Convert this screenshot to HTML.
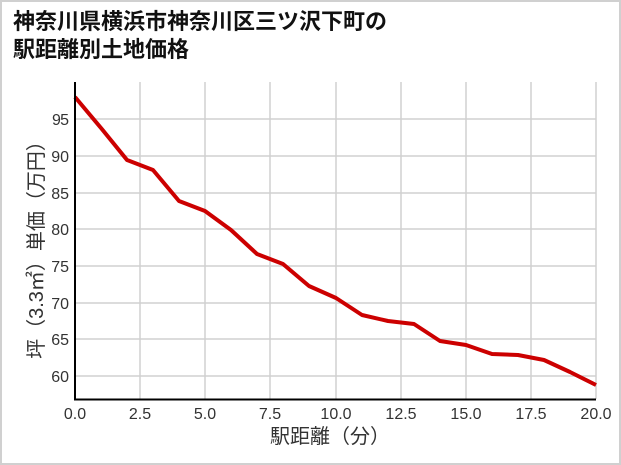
<!DOCTYPE html>
<html><head><meta charset="utf-8"><style>
body{margin:0;width:621px;height:465px;background:#fff;overflow:hidden}
.f{position:absolute;left:0;top:0;width:617px;height:461px;border:2px solid #d0d0d0}
.t{position:absolute;left:13px;top:8px;font:bold 22px/28px "Liberation Sans","Noto Sans CJK JP",sans-serif;color:#111}
</style></head><body><div class="f"></div>
<div class="t">神奈川県横浜市神奈川区三ツ沢下町の<br>駅距離別土地価格</div>
<svg width="621" height="465" style="position:absolute;left:0;top:0" font-family="Liberation Sans,Noto Sans CJK JP,sans-serif">
<g stroke="#d0d0d0" stroke-width="1.5">
<line x1="140" y1="82" x2="140" y2="399"/><line x1="205" y1="82" x2="205" y2="399"/><line x1="270" y1="82" x2="270" y2="399"/><line x1="336" y1="82" x2="336" y2="399"/><line x1="401" y1="82" x2="401" y2="399"/><line x1="466" y1="82" x2="466" y2="399"/><line x1="531" y1="82" x2="531" y2="399"/><line x1="596" y1="82" x2="596" y2="399"/>
<line x1="75" y1="119" x2="596" y2="119"/><line x1="75" y1="156" x2="596" y2="156"/><line x1="75" y1="193" x2="596" y2="193"/><line x1="75" y1="229" x2="596" y2="229"/><line x1="75" y1="266" x2="596" y2="266"/><line x1="75" y1="303" x2="596" y2="303"/><line x1="75" y1="339" x2="596" y2="339"/><line x1="75" y1="376" x2="596" y2="376"/>
</g>
<polyline fill="none" stroke="#cc0000" stroke-width="4" stroke-linejoin="round" points="75,97 101,128 127,160 153,170 179,201 205,211 231,230 257,254 283,264 309,286 336,298 362,315 388,321 414,324 440,341 466,345 492,354 518,355 544,360 570,372 596,385"/>
<line x1="75" y1="82" x2="75" y2="400" stroke="#000" stroke-width="2"/>
<line x1="74" y1="399.5" x2="596" y2="399.5" stroke="#000" stroke-width="2"/>
<g font-size="16" fill="#333" text-anchor="end">
<text x="69" y="125" textLength="17">95</text><text x="69" y="162">90</text><text x="69" y="199">85</text><text x="69" y="235">80</text><text x="69" y="272">75</text><text x="69" y="309">70</text><text x="69" y="345">65</text><text x="69" y="382">60</text></g>
<g font-size="16" fill="#333" text-anchor="middle">
<text x="75" y="419">0.0</text><text x="140" y="419">2.5</text><text x="205" y="419">5.0</text><text x="270" y="419">7.5</text><text x="336" y="419">10.0</text><text x="401" y="419">12.5</text><text x="466" y="419">15.0</text><text x="531" y="419">17.5</text><text x="596" y="419">20.0</text>
<text x="330" y="443" font-size="20">駅距離（分）</text>
<text transform="translate(43,245) rotate(-90)" font-size="20">坪（3.3㎡）単価（万円）</text></g>
</svg></body></html>
